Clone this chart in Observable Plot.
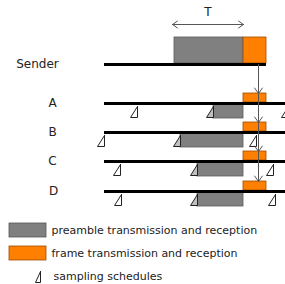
<!DOCTYPE html>
<html><head><meta charset="utf-8">
<script src="https://cdn.jsdelivr.net/npm/d3@7"></script>
<script src="https://cdn.jsdelivr.net/npm/@observablehq/plot@0.6"></script>
<style>body{margin:0;background:#fff}</style>
</head><body><div id="chart"></div>
<script>
// Timeline rows (y = lane position, line start/end on time axis)
const rowNames = ["Sender", "A", "B", "C", "D"];
const rowY = [64, 103, 132, 161, 191];
const rowLabelX = [37, 52, 52, 52, 53];
const lineStart = [104, 104, 104, 104, 104];
const lineEnd = [266, 285, 285, 285, 285];
// preamble (gray) intervals
const preambleStart = [174, 213, 180, 197, 197];
const preambleEnd = [243, 243, 243, 243, 243];
// frame (orange) interval
const frameStart = 243, frameEnd = 266;
// arrival time of propagation arrow
const arrivalX = 258;
// sampling schedules per receiver row (time of each sample)
const samples = {A: [137, 213, 288], B: [104, 180, 256], C: [120, 197, 273], D: [121, 197, 275]};
// T interval
const tStart = 172, tEnd = 243;
// legend
const legendLabels = ["preamble transmission and reception", "frame transmission and reception", "sampling schedules"];
const legendY = [230, 253, 276];

const gray = "#808080", orange = "#ff8000";

const rows = rowNames.map((n, i) => ({name: n, y: rowY[i], lx: rowLabelX[i], x1: lineStart[i], x2: lineEnd[i], p1: preambleStart[i], p2: preambleEnd[i]}));
const sender = rows[0];
const receivers = rows.slice(1);

const grayBoxes = rows.map((r, i) => i === 0
  ? {x1: r.p1, x2: r.p2, y1: r.y - 27, y2: r.y - 1}
  : {x1: r.p1, x2: r.p2, y1: r.y + 1, y2: r.y + 15});
const orangeBoxes = rows.map((r, i) => i === 0
  ? {x1: frameStart, x2: frameEnd, y1: r.y - 27, y2: r.y - 1}
  : {x1: frameStart, x2: frameEnd, y1: r.y - 10, y2: r.y - 1});

const tri = [];
receivers.forEach(r => {
  samples[r.name].forEach((sx, k) => {
    const id = r.name + k;
    const inPre = sx >= r.p1 && sx <= r.p2;
    const pts = [[sx, r.y + 3], [sx, r.y + 14], [sx - 7, r.y + 14], [sx, r.y + 3]];
    pts.forEach(([x, y]) => tri.push({id, x, y, fill: inPre ? "#c0c0c0" : "white"}));
  });
});
// legend triangle
[[40, 271], [40, 282], [35, 282], [40, 271]].forEach(([x, y]) => tri.push({id: "leg", x, y, fill: "white"}));

const arrows = receivers.map(r => ({x: arrivalX, y1: sender.y, y2: r.y - 10}));

const legendRects = [
  {x1: 9, x2: 46, y1: legendY[0] - 7, y2: legendY[0] + 7, fill: gray, stroke: "#555"},
  {x1: 9, x2: 46, y1: legendY[1] - 7, y2: legendY[1] + 7, fill: orange, stroke: "#a04a00"}
];

const chart = Plot.plot({
  width: 285, height: 284,
  margin: 0,
  x: {domain: [0, 285], range: [0, 285], axis: null},
  y: {domain: [0, 284], range: [0, 284], axis: null},
  style: {fontFamily: "DejaVu Sans", background: "white"},
  marks: [
    Plot.rect(grayBoxes, {x1: "x1", x2: "x2", y1: "y1", y2: "y2", fill: gray, stroke: "#5a5a5a", strokeWidth: 0.8}),
    Plot.rect(orangeBoxes, {x1: "x1", x2: "x2", y1: "y1", y2: "y2", fill: orange, stroke: "#a04a00", strokeWidth: 0.8}),
    Plot.ruleY(rows, {y: "y", x1: "x1", x2: "x2", stroke: "black", strokeWidth: 3}),
    Plot.line(tri, {x: "x", y: "y", z: "id", fill: "fill", stroke: "#222", strokeWidth: 1, curve: "linear"}),
    Plot.arrow(arrows, {x1: "x", x2: "x", y1: "y1", y2: "y2", stroke: "#555", strokeWidth: 1, headLength: 10, headAngle: 70}),
    Plot.arrow([{a: (tStart + tEnd) / 2, b: tStart}, {a: (tStart + tEnd) / 2, b: tEnd}], {x1: "a", x2: "b", y1: () => 24, y2: () => 24, stroke: "#555", strokeWidth: 1, headLength: 9, headAngle: 70}),
    Plot.text(["T"], {x: () => (tStart + tEnd) / 2, y: () => 12, text: d => d, fontSize: 12, fill: "#222"}),
    Plot.text(rows, {x: "lx", y: "y", text: "name", fontSize: 12, fill: "#222"}),
    Plot.rect(legendRects, {x1: "x1", x2: "x2", y1: "y1", y2: "y2", fill: "fill", stroke: "stroke", strokeWidth: 0.8}),
    Plot.text(legendLabels, {x: (d, i) => i === 2 ? 53 : 51, y: (d, i) => legendY[i], text: d => d, textAnchor: "start", fontSize: 11, fill: "#222"})
  ]
});
document.getElementById("chart").append(chart);
</script></body></html>
